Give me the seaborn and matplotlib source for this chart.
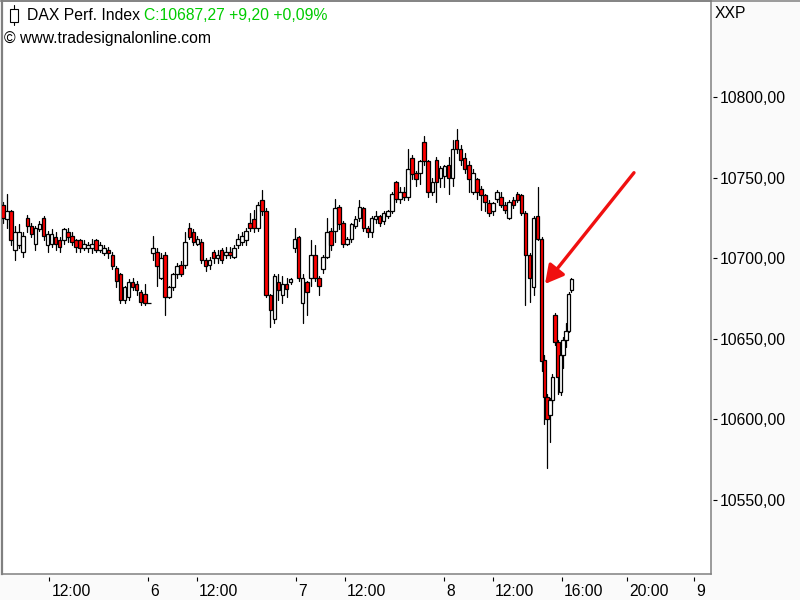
import numpy as np
import pandas as pd
import matplotlib
matplotlib.use('Agg')
import matplotlib.pyplot as plt
from matplotlib.lines import Line2D
from matplotlib.patches import Rectangle
from matplotlib.transforms import ScaledTranslation
import seaborn as sns

# DAX index candles
opens = [
    10733, 10724, 10729, 10705, 10708, 10704, 10725, 10720, 10709, 10718,
    10725, 10708, 10709, 10713, 10711, 10711, 10716, 10714, 10711, 10711,
    10706, 10706, 10706, 10711, 10705, 10703, 10705, 10702, 10694, 10690,
    10674, 10676, 10685, 10684, 10679, 10678, 10672, 10703, 10704, 10688,
    10702, 10676, 10682, 10690, 10696, 10696, 10719, 10716, 10709, 10710,
    10699, 10696, 10704, 10700, 10705, 10702, 10704, 10701, 10708, 10710,
    10711, 10722, 10724, 10719, 10736, 10729, 10677, 10662, 10685, 10677,
    10684, 10685, 10706, 10713, 10672, 10685, 10688, 10702, 10688, 10693,
    10701, 10717, 10717, 10732, 10722, 10709, 10712, 10720, 10725, 10731,
    10719, 10716, 10724, 10726, 10723, 10726, 10729, 10747, 10737, 10741,
    10738, 10762, 10753, 10753, 10772, 10760, 10741, 10761, 10750, 10751,
    10758, 10750, 10773, 10768, 10762, 10758, 10741, 10749, 10743, 10739,
    10734, 10729, 10737, 10738, 10733, 10725, 10736, 10740, 10739, 10728,
    10702, 10682, 10726, 10712, 10637, 10614, 10603, 10612, 10665, 10648,
    10617, 10640, 10649, 10655, 10680,
]
closes = [
    10725, 10729, 10711, 10716, 10716, 10714, 10720, 10715, 10719, 10721,
    10714, 10715, 10715, 10709, 10707, 10718, 10713, 10710, 10707, 10706,
    10709, 10708, 10709, 10705, 10708, 10706, 10703, 10695, 10686, 10674,
    10682, 10685, 10682, 10680, 10673, 10672, 10672, 10706, 10695, 10700,
    10676, 10682, 10690, 10695, 10690, 10710, 10713, 10710, 10712, 10699,
    10695, 10699, 10700, 10702, 10699, 10704, 10702, 10706, 10712, 10714,
    10717, 10719, 10719, 10733, 10729, 10677, 10668, 10689, 10680, 10684,
    10681, 10687, 10712, 10688, 10688, 10679, 10702, 10688, 10683, 10701,
    10716, 10708, 10731, 10721, 10709, 10712, 10721, 10724, 10732, 10719,
    10716, 10725, 10726, 10722, 10728, 10729, 10740, 10737, 10741, 10738,
    10755, 10752, 10749, 10760, 10760, 10741, 10747, 10747, 10756, 10757,
    10750, 10768, 10768, 10761, 10755, 10749, 10753, 10741, 10739, 10735,
    10728, 10734, 10741, 10733, 10730, 10735, 10733, 10736, 10728, 10702,
    10688, 10725, 10712, 10636, 10614, 10600, 10612, 10626, 10648, 10626,
    10640, 10649, 10655, 10678, 10687.27,
]
highs = [
    10735, 10740, 10730, 10720, 10721, 10716, 10727, 10722, 10720, 10723,
    10726, 10717, 10718, 10716, 10713, 10719, 10719, 10716, 10712, 10712,
    10711, 10710, 10712, 10712, 10710, 10708, 10707, 10704, 10695, 10691,
    10683, 10687, 10688, 10686, 10680, 10684, 10672, 10714, 10706, 10703,
    10704, 10683, 10691, 10697, 10698, 10716, 10722, 10718, 10714, 10712,
    10700, 10701, 10705, 10705, 10706, 10707, 10707, 10708, 10715, 10716,
    10719, 10728, 10730, 10735, 10742, 10731, 10678, 10690, 10690, 10689,
    10688, 10688, 10719, 10714, 10690, 10686, 10711, 10708, 10689, 10702,
    10725, 10719, 10737, 10733, 10723, 10713, 10722, 10726, 10736, 10732,
    10720, 10726, 10729, 10727, 10729, 10730, 10741, 10748, 10744, 10744,
    10768, 10764, 10754, 10761, 10776, 10761, 10750, 10763, 10757, 10758,
    10763, 10773, 10780, 10770, 10765, 10760, 10755, 10750, 10745, 10740,
    10736, 10735, 10742, 10741, 10735, 10736, 10738, 10741, 10740, 10729,
    10703, 10726, 10744, 10713, 10640, 10616, 10613, 10628, 10666, 10649,
    10641, 10651, 10660, 10679, 10688,
]
lows = [
    10722, 10719, 10708, 10699, 10706, 10701, 10716, 10713, 10705, 10717,
    10711, 10704, 10707, 10705, 10704, 10709, 10710, 10708, 10704, 10704,
    10705, 10704, 10703, 10704, 10704, 10702, 10700, 10693, 10682, 10672,
    10672, 10674, 10680, 10677, 10671, 10671, 10672, 10699, 10683, 10687,
    10665, 10675, 10680, 10688, 10689, 10694, 10712, 10708, 10708, 10697,
    10692, 10693, 10697, 10697, 10697, 10700, 10700, 10700, 10706, 10708,
    10708, 10717, 10716, 10717, 10727, 10676, 10657, 10660, 10674, 10672,
    10676, 10684, 10704, 10686, 10660, 10665, 10683, 10686, 10677, 10691,
    10700, 10705, 10710, 10718, 10707, 10708, 10710, 10719, 10723, 10717,
    10713, 10713, 10722, 10720, 10721, 10725, 10728, 10735, 10734, 10736,
    10736, 10749, 10745, 10746, 10758, 10738, 10739, 10735, 10744, 10744,
    10740, 10745, 10765, 10758, 10753, 10741, 10740, 10737, 10730, 10729,
    10726, 10727, 10735, 10732, 10728, 10724, 10731, 10735, 10727, 10671,
    10673, 10677, 10711, 10630, 10597, 10570, 10586, 10610, 10646, 10616,
    10615, 10632, 10645, 10654, 10679,
]

tick_hours = [2.87, 8.95, 11.98, 18.09, 21.11, 27.22, 30.25, 34.5, 38.52, 42.65]
tick_labels = ['12:00', '6', '12:00', '7', '12:00', '8', '12:00', '16:00', '20:00', '9']
price_ticks = [10800, 10750, 10700, 10650, 10600, 10550]
price_labels = ['10800,00', '10750,00', '10700,00', '10650,00', '10600,00', '10550,00']

GREY = '#808080'
TEXT = '#000000'
FONT_SIZE = 11.35

sns.set_theme(style='white')
plt.rcParams['font.family'] = ['Liberation Sans', 'DejaVu Sans']

# 15 minute bars, the last stretch is packed tighter
hours = np.r_[np.arange(133) * 0.25, 33.25 + np.arange(12) / 6]
df = pd.DataFrame({'hour': hours, 'open': opens, 'high': highs, 'low': lows, 'close': closes})
df['bar'] = df.index
wicks = df.melt(id_vars=['bar', 'hour'], value_vars=['high', 'low'], value_name='price')

fig = plt.figure(figsize=(8, 6), dpi=100, facecolor='#fafafa')
ax = fig.add_axes([2 / 800, 1 - 574 / 600, 709 / 800, 573 / 600], facecolor='white')

sns.lineplot(data=wicks, x='hour', y='price', units='bar', estimator=None,
             color='black', linewidth=0.9, legend=False, ax=ax, zorder=2)

body_colors = ['red' if o > c else 'white' for o, c in zip(df['open'], df['close'])]
ax.bar(df['hour'], df['close'] - df['open'], bottom=df['open'], width=0.22,
       color=body_colors, edgecolor='black', linewidth=0.9, zorder=3)

ax.set_xlim(-1 / 16.2, 708 / 16.2)
ax.set_ylim(10504.1, 10859.5)
ax.set_xlabel('')
ax.set_ylabel('')

ax.set_xticks(tick_hours)
ax.set_xticklabels(tick_labels, ha='left', fontsize=FONT_SIZE, color=TEXT)
ax.yaxis.tick_right()
ax.set_yticks(price_ticks)
ax.set_yticklabels(price_labels, fontsize=FONT_SIZE, color=TEXT)
ax.tick_params(axis='x', length=0, pad=7.5)
ax.tick_params(axis='y', length=0, pad=6.5)
shift = ScaledTranslation(2 / 100, 0, fig.dpi_scale_trans)
for label in ax.get_xticklabels():
    label.set_transform(label.get_transform() + shift)

# tick dashes sit a little away from the frame
ax.vlines(tick_hours, -7 / 573, -3 / 573, transform=ax.get_xaxis_transform(),
          color='black', linewidth=0.8, clip_on=False)
ax.hlines(price_ticks, 1 + 2 / 709, 1 + 6 / 709, transform=ax.get_yaxis_transform(),
          color='black', linewidth=0.8, clip_on=False)

for side in ax.spines:
    ax.spines[side].set_color(GREY)
    ax.spines[side].set_linewidth(1.1)
ax.spines['left'].set_linewidth(1.6)
fig.add_artist(Line2D([0, 1], [1 - 0.8 / 600] * 2, color=GREY, linewidth=1.1))

# arrow drawn on the chart by hand
ax.annotate('', xy=(33.46, 10684), xytext=(38.95, 10753),
            arrowprops=dict(arrowstyle='-|>,head_length=0.55,head_width=0.3', color='#f01010',
                            linewidth=2.4, shrinkA=0, shrinkB=0, mutation_scale=20))

# header
fig.text(27 / 800, 1 - 15 / 600, 'DAX Perf. Index', fontsize=FONT_SIZE, color=TEXT, va='center')
fig.text(144 / 800, 1 - 15 / 600, 'C:10687,27 +9,20 +0,09%', fontsize=FONT_SIZE, color='#00cc00', va='center')
fig.text(4 / 800, 1 - 38 / 600, '© www.tradesignalonline.com', fontsize=FONT_SIZE, color=TEXT, va='center')
fig.text(715 / 800, 1 - 13 / 600, 'XXP', fontsize=FONT_SIZE, color=TEXT, va='center')
fig.add_artist(Line2D([14 / 800] * 2, [1 - 5 / 600, 1 - 25 / 600], color='black', linewidth=0.8))
fig.add_artist(Rectangle((10 / 800, 1 - 22 / 600), 8 / 800, 13 / 600, transform=fig.transFigure,
                         facecolor='white', edgecolor='black', linewidth=0.8, zorder=3))

fig.savefig('out.png', dpi=100, facecolor=fig.get_facecolor())
